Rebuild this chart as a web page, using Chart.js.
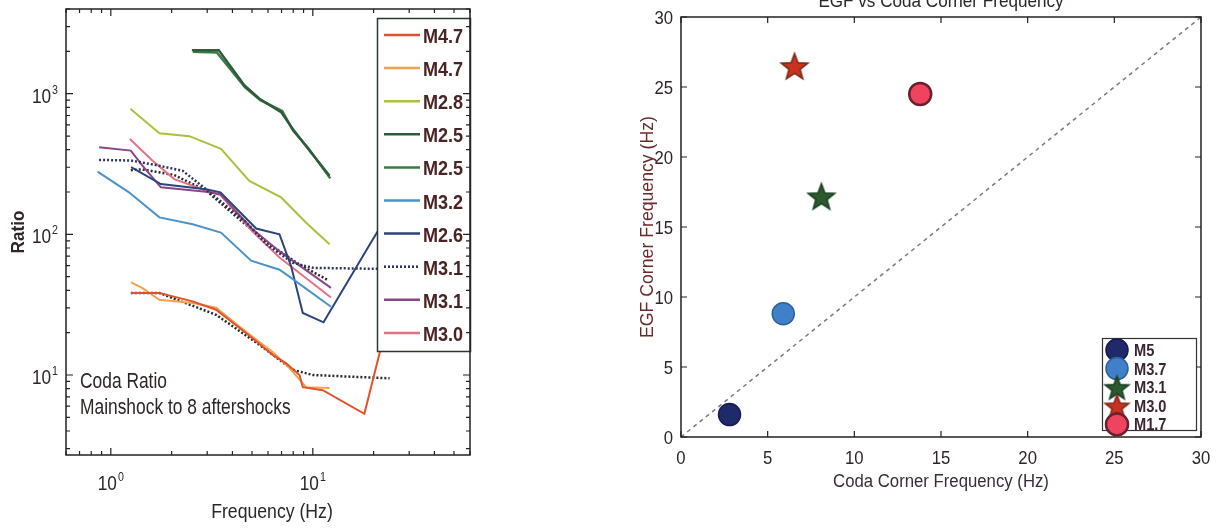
<!DOCTYPE html>
<html><head><meta charset="utf-8">
<script src="https://cdn.jsdelivr.net/npm/chart.js@4.4.1/dist/chart.umd.min.js"></script>
<style>
html,body{margin:0;padding:0;background:#fff;width:1223px;height:529px;overflow:hidden;}
#c1{position:absolute;left:0;top:0;width:480px;height:529px;}
#c2{position:absolute;left:600px;top:0;width:623px;height:529px;}
</style></head><body>
<canvas id="c1" width="480" height="529"></canvas>
<canvas id="c2" width="623" height="529"></canvas>
<script>
// ---------------- LEFT PANEL DATA (Coda ratio spectra) ----------------
const seriesLabels = ['M4.7','M4.7','M2.8','M2.5','M2.5','M3.2','M2.6','M3.1','M3.1','M3.0'];

const m47aFreq  = [1.26, 1.74, 2.54, 3.32, 4.67, 6.33, 7.38, 8.59, 8.92, 11.2, 18.0, 21.4, 24.6];
const m47aRatio = [38.3, 38.3, 33.4, 29.1, 19.9, 13.9, 12.1, 10.0, 8.2, 7.8, 5.3, 14.3, 34];

const m47bFreq  = [1.26, 1.43, 1.74, 2.54, 3.32, 4.67, 6.33, 7.66, 9.27, 12.1];
const m47bRatio = [45.6, 41.6, 34.3, 32.5, 30.1, 20.3, 14.6, 11.2, 8.2, 8.1];

const m28Freq   = [1.25, 1.74, 2.45, 3.51, 4.85, 6.97, 9.27, 12.1];
const m28Ratio  = [781, 524, 499, 405, 240, 183, 121, 85];

const m25aFreq  = [2.52, 3.42, 4.59, 5.44, 6.97, 7.96, 9.63, 12.1];
const m25aRatio = [2040, 2040, 1145, 921, 740, 562, 394, 261];

const m25bFreq  = [2.55, 3.35, 4.62, 5.5, 7.05, 8.0, 9.5, 12.2];
const m25bRatio = [1990, 1960, 1110, 900, 755, 545, 410, 250];

const m32Freq   = [0.86, 1.23, 1.74, 2.54, 3.51, 4.95, 6.84, 7.66, 12.3];
const m32Ratio  = [279, 199, 132, 118, 103, 65, 56, 50, 30.6];

const m26Freq   = [1.26, 1.77, 2.96, 3.49, 5.24, 6.84, 7.81, 8.92, 11.3, 19.8, 25.4];
const m26Ratio  = [301, 228, 209, 199, 110, 100, 59.4, 27.6, 23.7, 92, 166];

const m31aFreq  = [0.875, 1.256, 1.67, 2.27, 2.96, 4.67, 5.9, 7.96, 10.0, 20.2, 25];
const m31aRatio = [338, 335, 311, 283, 209, 122, 85, 62.8, 57.8, 56.9, 57];

const m31bFreq  = [0.875, 1.256, 1.434, 1.77, 2.96, 3.49, 5.02, 6.84, 12.3];
const m31bRatio = [416, 394, 308, 216, 201, 193, 109, 75.6, 41.6];

const m30Freq   = [1.243, 1.61, 2.06, 2.96, 3.49, 5.02, 6.84, 12.3];
const m30Ratio  = [477, 334, 247, 205, 190, 105, 68.5, 35.6];

// unlabeled dotted model curves
const fitUpperFreq  = [1.256, 1.43, 2.06, 2.96, 4.33, 6.1, 8.59, 11.9];
const fitUpperRatio = [286, 290, 264, 205, 128, 85, 61, 47.2];
const fitLowerFreq  = [1.256, 1.74, 3.32, 5.44, 7.96, 10.0, 24];
const fitLowerRatio = [38.3, 38.3, 26.8, 16.4, 10.9, 10.0, 9.47];

const xTickValuesLeft = [1, 10];
const yTickValuesLeft = [10, 100, 1000];
const leftNotes = ['Coda Ratio', 'Mainshock to 8 aftershocks'];

// ---------------- RIGHT PANEL DATA (corner frequencies) ----------------
const sourceLabels = ['M5', 'M3.7', 'M3.1', 'M3.0', 'M1.7'];
const codaFc = [2.8, 5.9, 8.1, 6.55, 13.8];
const egfFc  = [1.6, 8.8, 17.2, 26.5, 24.5];
const oneToOne = [0, 30];
const rightTicks = [0, 5, 10, 15, 20, 25, 30];

// ---------------- STYLES ----------------
const FONT = "'Liberation Sans',Arial,sans-serif";
const TXT = '#2e2626';
const seriesColors = ['#e2522a','#f2a24e','#a9c23e','#2f5a3c','#3b7a46','#4b92c9','#2b447e','#2c3160','#8a4686','#e37384'];
const seriesDash   = [[],[],[],[],[],[],[],[2,2],[],[]];
const seriesWidth  = [2,2,2,2.5,2.5,2,2,2.5,2,2];
const srcFill   = ['#1f2a6b','#3f80c8','#2b5a2e','#c8321e','#f0435e'];
const srcStroke = ['#161d50','#2f5f9a','#1c3d20','#7a2a1a','#6a2030'];
const srcShape  = ['circle','circle','star','star','circle'];

function pts(f, r){ return f.map((v,i)=>({x:v, y:r[i]})); }

// condensed text helper
function txt(ctx, s, x, y, o){
  ctx.save();
  ctx.font = o.font; ctx.fillStyle = o.color || TXT;
  ctx.textBaseline = o.baseline || 'alphabetic';
  ctx.textAlign = o.align || 'left';
  ctx.translate(x, y);
  if (o.rot) ctx.rotate(o.rot);
  ctx.scale(o.sx || 0.82, 1);
  ctx.fillText(s, 0, 0);
  ctx.restore();
}
function measure(ctx, s, font, sx){ ctx.save(); ctx.font = font; const w = ctx.measureText(s).width * sx; ctx.restore(); return w; }
// "10" with raised exponent; anchor: 'center' (x) or 'right'
function powLabel(ctx, v, x, base, anchor){
  const e = String(Math.round(Math.log10(v)));
  const f1 = "21px " + FONT, f2 = "13px " + FONT, sx = 0.82;
  const w1 = measure(ctx, '10', f1, sx), w2 = measure(ctx, e, f2, sx) + 1;
  const start = anchor === 'center' ? x - (w1 + w2) / 2 : x - (w1 + w2);
  txt(ctx, '10', start, base, {font:f1, sx});
  txt(ctx, e, start + w1 + 1, base - 9, {font:f2, sx});
}

// ---------------- LEFT CHART ----------------
const leftSeries = [
  [m47aFreq,m47aRatio],[m47bFreq,m47bRatio],[m28Freq,m28Ratio],[m25aFreq,m25aRatio],[m25bFreq,m25bRatio],
  [m32Freq,m32Ratio],[m26Freq,m26Ratio],[m31aFreq,m31aRatio],[m31bFreq,m31bRatio],[m30Freq,m30Ratio]
];
const leftDatasets = leftSeries.map((s,i)=>({
  label: seriesLabels[i], data: pts(s[0], s[1]), showLine: true,
  borderColor: seriesColors[i], borderWidth: seriesWidth[i], borderDash: seriesDash[i],
  pointRadius: 0, tension: 0, fill: false
}));
leftDatasets.push({label:'fitA', data: pts(fitUpperFreq, fitUpperRatio), showLine:true, borderColor:'#2a2a2a', borderWidth:2.5, borderDash:[2,2], pointRadius:0});
leftDatasets.push({label:'fitB', data: pts(fitLowerFreq, fitLowerRatio), showLine:true, borderColor:'#2a2a2a', borderWidth:2.5, borderDash:[2,2], pointRadius:0});

function logMinor(min, max){
  const out=[];
  for(let d=Math.floor(Math.log10(min)); d<=Math.ceil(Math.log10(max)); d++){
    for(let k=1;k<10;k++){ const v=k*Math.pow(10,d); if(v>=min*0.999 && v<=max*1.001) out.push({v, major:k===1}); }
  }
  return out;
}

const leftPlugin = {
  id:'leftDeco',
  afterDatasetsDraw(chart){
    const ctx = chart.ctx;
    const bx=377.5, by=18.5, bw=93, bh=333;
    ctx.save();
    ctx.fillStyle='#fff'; ctx.fillRect(bx,by,bw,bh);
    ctx.strokeStyle='#2b3a2e'; ctx.lineWidth=1.5; ctx.strokeRect(bx,by,bw,bh);
    seriesLabels.forEach((lab,i)=>{
      const y = 35 + i*33.1;
      ctx.beginPath(); ctx.setLineDash(seriesDash[i]); ctx.strokeStyle=seriesColors[i]; ctx.lineWidth=2.5;
      ctx.moveTo(384,y); ctx.lineTo(420,y); ctx.stroke(); ctx.setLineDash([]);
      txt(ctx, lab, 423, y+8, {font:"bold 21px "+FONT, sx:0.86, color:'#4a2424'});
    });
    const nf = "22px " + FONT;
    txt(ctx, leftNotes[0], 80, 388, {font:nf, sx:0.79});
    txt(ctx, leftNotes[1], 80, 414, {font:nf, sx:0.79});
    ctx.restore();
  },
  afterDraw(chart){
    const {ctx, chartArea:{left,top,right,bottom}} = chart;
    const xs = chart.scales.x, ys = chart.scales.y;
    ctx.save();
    ctx.strokeStyle='#222'; ctx.lineWidth=1.5;
    ctx.strokeRect(left,top,right-left,bottom-top);
    ctx.lineWidth=1.2;
    logMinor(xs.min, xs.max).forEach(t=>{
      const p = xs.getPixelForValue(t.v); const L = t.major?7:4;
      ctx.beginPath(); ctx.moveTo(p,bottom); ctx.lineTo(p,bottom-L); ctx.moveTo(p,top); ctx.lineTo(p,top+L); ctx.stroke();
    });
    logMinor(ys.min, ys.max).forEach(t=>{
      const p = ys.getPixelForValue(t.v); const L = t.major?7:4;
      ctx.beginPath(); ctx.moveTo(left,p); ctx.lineTo(left+L,p); ctx.moveTo(right,p); ctx.lineTo(right-L,p); ctx.stroke();
    });
    ctx.restore();
    xTickValuesLeft.forEach(v => powLabel(ctx, v, xs.getPixelForValue(v), 490, 'center'));
    yTickValuesLeft.forEach(v => powLabel(ctx, v, 58, ys.getPixelForValue(v) + 9, 'right'));
    txt(ctx, 'Frequency (Hz)', (left+right)/2 + 4, 518, {font:"21px "+FONT, sx:0.84, align:'center'});
    txt(ctx, 'Ratio', 19, (top+bottom)/2, {font:"bold 19px "+FONT, sx:0.9, align:'center', baseline:'middle', rot:-Math.PI/2});
  }
};

new Chart(document.getElementById('c1'), {
  type:'scatter',
  data:{datasets:leftDatasets},
  options:{
    responsive:false, animation:false, devicePixelRatio:1,
    layout:{padding:{top:9,right:10,left:0,bottom:0}},
    plugins:{legend:{display:false}, tooltip:{enabled:false}},
    scales:{
      x:{type:'logarithmic', min:0.6, max:60,
         grid:{display:false, drawTicks:false}, border:{display:false},
         afterBuildTicks: s => { s.ticks = xTickValuesLeft.map(v=>({value:v})); },
         afterFit: s => { s.height = 74; },
         ticks:{display:false}
      },
      y:{type:'logarithmic', min:2.7, max:4000,
         grid:{display:false, drawTicks:false}, border:{display:false},
         afterBuildTicks: s => { s.ticks = yTickValuesLeft.map(v=>({value:v})); },
         afterFit: s => { s.width = 66; },
         ticks:{display:false}
      }
    }
  },
  plugins:[leftPlugin]
});

// ---------------- RIGHT CHART ----------------
function makeStar(fill, stroke, R){
  const s = Math.ceil(R*2+4);
  const c = document.createElement('canvas'); c.width=s; c.height=s;
  const x = c.getContext('2d');
  x.beginPath();
  for(let i=0;i<10;i++){
    const r = (i%2) ? R*0.42 : R;
    const a = -Math.PI/2 + i*Math.PI/5;
    x.lineTo(s/2 + r*Math.cos(a), s/2 + 1.5 + r*Math.sin(a));
  }
  x.closePath(); x.fillStyle=fill; x.fill(); x.strokeStyle=stroke; x.lineWidth=1.5; x.stroke();
  return c;
}
const srcStyle = srcShape.map((sh,i)=> sh==='star' ? makeStar(srcFill[i], srcStroke[i], 14) : 'circle');
const srcLegendStar = srcShape.map((sh,i)=> sh==='star' ? makeStar(srcFill[i], srcStroke[i], 12.5) : null);

const rightDatasets = [{
  label:'1:1', data: oneToOne.map(v=>({x:v,y:v})), showLine:true,
  borderColor:'#737b82', borderWidth:1.5, borderDash:[4,4], pointRadius:0
}];
sourceLabels.forEach((lab,i)=>{
  rightDatasets.push({
    label: lab, data:[{x:codaFc[i], y:egfFc[i]}], showLine:false,
    pointStyle: srcStyle[i], pointRadius: 11,
    backgroundColor: srcFill[i], borderColor: srcStroke[i], borderWidth: i===4 ? 2.5 : 1.5
  });
});

const rightPlugin = {
  id:'rightDeco',
  afterDraw(chart){
    const {ctx, chartArea:{left,top,right,bottom}} = chart;
    const xs = chart.scales.x, ys = chart.scales.y;
    ctx.save();
    ctx.strokeStyle='#222'; ctx.lineWidth=1.5;
    ctx.strokeRect(left,top,right-left,bottom-top);
    ctx.lineWidth=1.2;
    rightTicks.forEach(v=>{
      const px = xs.getPixelForValue(v), py = ys.getPixelForValue(v);
      ctx.beginPath();
      ctx.moveTo(px,bottom); ctx.lineTo(px,bottom-6); ctx.moveTo(px,top); ctx.lineTo(px,top+6);
      ctx.moveTo(left,py); ctx.lineTo(left+6,py); ctx.moveTo(right,py); ctx.lineTo(right-6,py);
      ctx.stroke();
    });
    ctx.restore();
    const tf = "19px " + FONT;
    rightTicks.forEach(v=>{
      txt(ctx, String(v), xs.getPixelForValue(v), 464, {font:tf, sx:0.88, align:'center'});
      txt(ctx, String(v), 73, ys.getPixelForValue(v) + 7, {font:tf, sx:0.88, align:'right'});
    });
    txt(ctx, 'Coda Corner Frequency (Hz)', (left+right)/2, 487, {font:"18px "+FONT, sx:0.93, align:'center', color:'#3a2a3a'});
    txt(ctx, 'EGF Corner Frequency (Hz)', 48, (top+bottom)/2, {font:"19px "+FONT, sx:0.93, align:'center', baseline:'middle', rot:-Math.PI/2, color:'#6b2a2a'});
    txt(ctx, 'EGF vs Coda Corner Frequency', (left+right)/2, 7, {font:"19px "+FONT, sx:0.9, align:'center'});
    ctx.save();
    const bx=502.5, by=338.5, bw=94, bh=92;
    ctx.fillStyle='#fff'; ctx.fillRect(bx,by,bw,bh);
    ctx.strokeStyle='#333'; ctx.lineWidth=1.2; ctx.strokeRect(bx,by,bw,bh);
    sourceLabels.forEach((lab,i)=>{
      const y = 350 + i*18.6, x = 517;
      if(srcShape[i]==='star'){
        const img = srcLegendStar[i]; ctx.drawImage(img, x-img.width/2, y-img.height/2);
      } else {
        ctx.beginPath(); ctx.arc(x,y,11,0,Math.PI*2);
        ctx.fillStyle=srcFill[i]; ctx.fill(); ctx.strokeStyle=srcStroke[i]; ctx.lineWidth= i===4?2.5:1.5; ctx.stroke();
      }
      txt(ctx, lab, 534, y+6, {font:"bold 17px "+FONT, sx:0.86, color:'#3a2630'});
    });
    ctx.restore();
  }
};

new Chart(document.getElementById('c2'), {
  type:'scatter',
  data:{datasets:rightDatasets},
  options:{
    responsive:false, animation:false, devicePixelRatio:1,
    layout:{padding:{top:17,right:22,left:0,bottom:0}},
    plugins:{legend:{display:false}, tooltip:{enabled:false}},
    scales:{
      x:{type:'linear', min:0, max:30,
         grid:{display:false, drawTicks:false}, border:{display:false},
         afterBuildTicks: s => { s.ticks = rightTicks.map(v=>({value:v})); },
         afterFit: s => { s.height = 92; },
         ticks:{display:false}
      },
      y:{type:'linear', min:0, max:30,
         grid:{display:false, drawTicks:false}, border:{display:false},
         afterBuildTicks: s => { s.ticks = rightTicks.map(v=>({value:v})); },
         afterFit: s => { s.width = 81; },
         ticks:{display:false}
      }
    }
  },
  plugins:[rightPlugin]
});
</script></body></html>
